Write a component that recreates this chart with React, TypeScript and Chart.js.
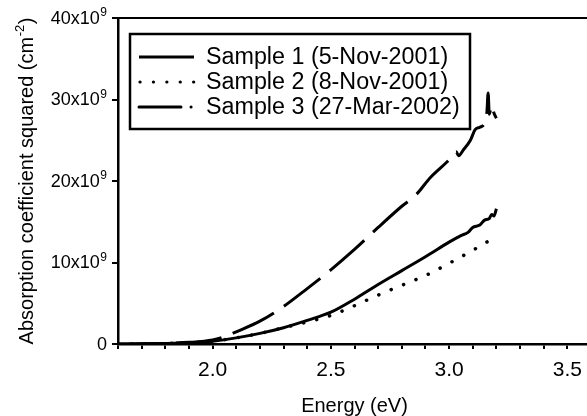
import React, { useEffect, useRef } from "react";
import { Chart, registerables } from "chart.js";

Chart.register(...registerables);

const FONT = "'Liberation Sans', Arial, Helvetica, sans-serif";

// Energy (eV) and absorption coefficient squared (units of 1e9 cm^-2)
const energy1 = [1.6, 1.7, 1.8, 1.9, 2.0, 2.1, 2.2, 2.3, 2.4, 2.5, 2.6, 2.7, 2.8, 2.9, 3.0, 3.05, 3.08, 3.1, 3.13, 3.15, 3.17, 3.18, 3.19, 3.2];
const sample1 = [0.0, 0.02, 0.06, 0.15, 0.35, 0.75, 1.3, 2.0, 2.9, 3.9, 5.5, 7.3, 9.0, 10.7, 12.5, 13.3, 13.7, 14.3, 14.6, 15.2, 15.4, 15.9, 15.7, 16.6];

const energy2 = [1.6, 1.7, 1.8, 1.9, 2.0, 2.1, 2.2, 2.3, 2.4, 2.5, 2.6, 2.7, 2.8, 2.9, 3.0, 3.1, 3.2];
const sample2 = [0.0, 0.02, 0.06, 0.15, 0.35, 0.75, 1.3, 2.0, 2.7, 3.5, 4.7, 6.0, 7.2, 8.4, 9.9, 11.5, 13.2];

const energy3 = [1.6, 1.7, 1.8, 1.9, 2.0, 2.05, 2.1, 2.2, 2.3, 2.4, 2.5, 2.6, 2.7, 2.8, 2.86, 2.92, 3.0, 3.03, 3.04, 3.06, 3.09, 3.11, 3.13, 3.15, 3.16, 3.165, 3.17, 3.18, 3.19, 3.2];
const sample3 = [0.0, 0.02, 0.08, 0.2, 0.5, 0.9, 1.5, 2.8, 4.6, 6.8, 9.1, 11.6, 14.3, 16.9, 18.3, 20.4, 22.6, 23.6, 23.1, 23.8, 25.0, 26.3, 26.6, 27.1, 28.5, 30.8, 28.2, 29.3, 28.3, 27.7];

const seriesLabels = ["Sample 1 (5-Nov-2001)", "Sample 2 (8-Nov-2001)", "Sample 3 (27-Mar-2002)"];
const xTickLabels = ["2.0", "2.5", "3.0", "3.5"];
const yTicks = [0, 10, 20, 30, 40];
const yTickMain = ["0", "10x10", "20x10", "30x10", "40x10"];
const yTickSup = ["", "9", "9", "9", "9"];
const yTitleMain = "Absorption coefficient squared (cm";
const yTitleSup = "-2";
const yTitleEnd = ")";

const toPoints = (xs: number[], ys: number[]) => xs.map((x, i) => ({ x, y: ys[i] }));

const legendDashes: number[][] = [[], [0.1, 13.3], [42, 10, 0.1, 10]];

const customText = {
  id: "customText",
  afterDraw(chart: any) {
    const { ctx, chartArea } = chart;
    const ys = chart.scales.y;
    ctx.save();
    ctx.fillStyle = "#000";
    // y tick labels with superscripts
    const right = 107;
    yTicks.forEach((v, i) => {
      const y = ys.getPixelForValue(v);
      ctx.textBaseline = "middle";
      ctx.textAlign = "right";
      let x = right;
      if (yTickSup[i]) {
        ctx.font = `12px ${FONT}`;
        const sw = ctx.measureText(yTickSup[i]).width;
        ctx.fillText(yTickSup[i], x, y - 5);
        x -= sw + 0.5;
      }
      ctx.font = `18px ${FONT}`;
      ctx.fillText(yTickMain[i], x, y + 1);
    });
    // y title rotated with superscript
    const cx = 27;
    const cy = (chartArea.top + chartArea.bottom) / 2;
    ctx.translate(cx, cy);
    ctx.rotate(-Math.PI / 2);
    ctx.font = `20px ${FONT}`;
    const w1 = ctx.measureText(yTitleMain).width;
    const w3 = ctx.measureText(yTitleEnd).width;
    ctx.font = `13px ${FONT}`;
    const w2 = ctx.measureText(yTitleSup).width;
    const total = w1 + w2 + w3 + 1;
    let x0 = -total / 2;
    ctx.textAlign = "left";
    ctx.textBaseline = "middle";
    ctx.font = `20px ${FONT}`;
    ctx.fillText(yTitleMain, x0, 0);
    x0 += w1 + 0.5;
    ctx.font = `13px ${FONT}`;
    ctx.fillText(yTitleSup, x0, -7);
    x0 += w2 + 0.5;
    ctx.font = `20px ${FONT}`;
    ctx.fillText(yTitleEnd, x0, 0);
    ctx.restore();
  },
  afterDatasetsDraw(chart: any) {
    const { ctx, chartArea } = chart;
    ctx.save();
    ctx.strokeStyle = "#000";
    ctx.lineWidth = 2;
    ctx.beginPath();
    ctx.moveTo(chartArea.left, chartArea.top);
    ctx.lineTo(chartArea.right, chartArea.top);
    ctx.lineTo(chartArea.right, chartArea.bottom);
    ctx.stroke();

    // legend box
    const bx = 130, by = 34, bw = 340, bh = 95;
    ctx.fillStyle = "#fff";
    ctx.fillRect(bx, by, bw, bh);
    ctx.lineWidth = 2.5;
    ctx.strokeRect(bx, by, bw, bh);
    const rows = [57, 82, 107];
    chart.data.datasets.forEach((ds: any, i: number) => {
      const y = rows[i];
      ctx.setLineDash(legendDashes[i]);
      ctx.lineCap = i === 0 ? "butt" : "round";
      ctx.lineWidth = i === 1 ? 3.2 : 3;
      ctx.beginPath();
      ctx.moveTo(i === 1 ? 140 : 139, y);
      ctx.lineTo(194, y);
      ctx.stroke();
      ctx.setLineDash([]);
      ctx.fillStyle = "#000";
      ctx.font = `23.3px ${FONT}`;
      ctx.textBaseline = "middle";
      ctx.textAlign = "left";
      ctx.fillText(ds.label, 206, y + 1);
    });
    ctx.restore();
  },
};

export default function App() {
  const ref = useRef<HTMLCanvasElement | null>(null);
  useEffect(() => {
    if (!ref.current) return;
    const chart = new Chart(ref.current, {
      type: "line",
      data: {
        datasets: [
          {
            label: seriesLabels[0],
            data: toPoints(energy1, sample1),
            borderColor: "#000",
            borderWidth: 3,
            pointRadius: 0,
            cubicInterpolationMode: "monotone",
          },
          {
            label: seriesLabels[1],
            data: toPoints(energy2, sample2),
            borderColor: "#000",
            borderWidth: 3.5,
            borderDash: [0.1, 13.3],
            borderCapStyle: "round",
            pointRadius: 0,
            cubicInterpolationMode: "monotone",
          },
          {
            label: seriesLabels[2],
            data: toPoints(energy3, sample3),
            borderColor: "#000",
            borderWidth: 3,
            borderDash: [46, 12],
            pointRadius: 0,
            cubicInterpolationMode: "monotone",
          },
        ] as any,
      },
      options: {
        responsive: false,
        animation: false,
        layout: { padding: { left: 17, right: 9, top: 18, bottom: 0 } },
        plugins: { legend: { display: false }, tooltip: { enabled: false } },
        scales: {
          x: {
            type: "linear",
            min: 1.6,
            max: 3.6,
            afterFit(scale: any) {
              scale.height = 72;
            },
            afterBuildTicks(scale: any) {
              const t = [];
              for (let i = 16; i <= 36; i++) t.push({ value: i / 10 });
              scale.ticks = t;
            },
            ticks: {
              autoSkip: false,
              maxRotation: 0,
              color: "#000",
              font: { family: FONT, size: 21 },
              padding: 9,
              callback(v: any) {
                const k = Math.round(Number(v) * 10);
                if (k % 5 !== 0 || k < 20 || k > 35) return "";
                return xTickLabels[(k - 20) / 5];
              },
            },
            grid: { drawOnChartArea: false, drawTicks: true, tickLength: 5, color: "#000", lineWidth: 2 },
            border: { display: true, color: "#000", width: 2.5 },
            title: {
              display: true,
              text: "Energy (eV)",
              color: "#000",
              font: { family: FONT, size: 20, lineHeight: 1 },
              padding: { top: 0, bottom: 0 },
            },
          },
          y: {
            type: "linear",
            min: 0,
            max: 40,
            afterFit(scale: any) {
              scale.width = 101;
            },
            afterBuildTicks(scale: any) {
              scale.ticks = yTicks.map((v) => ({ value: v }));
            },
            ticks: {
              color: "#000",
              font: { family: FONT, size: 18 },
              padding: 5,
              callback() {
                return "";
              },
            },
            grid: { drawOnChartArea: false, drawTicks: true, tickLength: 6, color: "#000", lineWidth: 2 },
            border: { display: true, color: "#000", width: 2.5 },
          },
        },
      } as any,
      plugins: [customText],
    });
    return () => chart.destroy();
  }, []);
  return (
    <div style={{ position: "absolute", left: 0, top: 0, width: 587, height: 416, overflow: "hidden", background: "#fff" }}>
      <canvas ref={ref} width={600} height={416} style={{ display: "block", width: 600, height: 416 }} />
    </div>
  );
}
